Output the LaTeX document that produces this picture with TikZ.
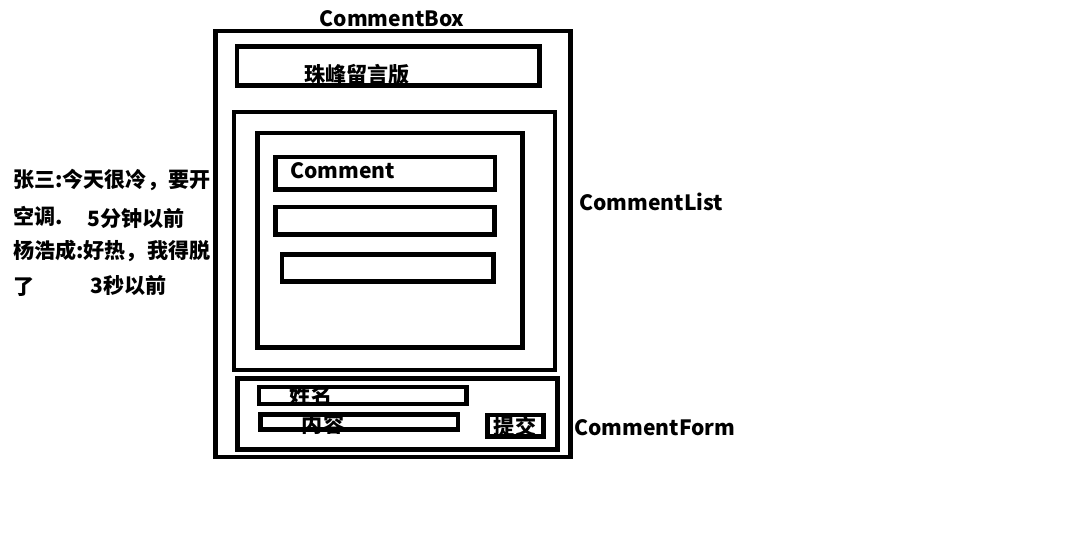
\documentclass[tikz,border=0pt]{standalone}
\usepackage{fontspec}
\setmainfont{Noto Sans CJK SC}
\begin{document}
\begin{tikzpicture}[x=0.75pt,y=-0.75pt,
  box/.style={draw=black,line width=3.5pt},
  lbl/.style={inner sep=0pt,font=\bfseries\fontsize{15.8}{18}\selectfont},
  tag/.style={lbl,anchor=west}]
\useasboundingbox[fill=white] (0,0) rectangle (1089,550);
% CommentBox frame and its title bar
\draw[box] (215.5,31) rectangle (570.5,457);
\draw[box] (237,46.5) rectangle (539.5,85.5);
\node[lbl] (title) at (357,75) {珠峰留言版};
\node[lbl] (cbox) at (392,19) {CommentBox};
% CommentList
\draw[box] (234,112) rectangle (555,370);
\draw[box] (257.5,133) rectangle (522.5,347.5);
\draw[box] (275.5,157) rectangle (495,189.5);
\draw[box] (275.5,207) rectangle (494.5,234.5);
\draw[box] (282,254.5) rectangle (493.5,281.5);
\node[tag] (comment) at (290,171) {Comment};
\node[tag] (clist) at (579,202) {CommentList};
% CommentForm
\draw[box] (237.5,378.5) rectangle (557.5,449.5);
\draw[box] (259,387) rectangle (466.5,404);
\draw[box] (260.5,414.5) rectangle (458,429.5);
\draw[box] (487.5,415) rectangle (543.5,436.5);
\node[lbl] (name) at (311,395) {姓名};
\node[lbl] (content) at (323,424) {内容};
\node[lbl] (submit) at (515,426) {提交};
\node[tag] (cform) at (574,428) {CommentForm};
% sample comments
\node[tag] (c1a) at (13,180) {张三:今天很冷，要开};
\node[tag] (c1b) at (13,216) {空调.};
\node[tag] (c1t) at (87,219) {5分钟以前};
\node[tag] (c2a) at (13,251) {杨浩成:好热，我得脱};
\node[tag] (c2b) at (13,287) {了};
\node[tag] (c2t) at (90,286) {3秒以前};
\end{tikzpicture}
\end{document}
